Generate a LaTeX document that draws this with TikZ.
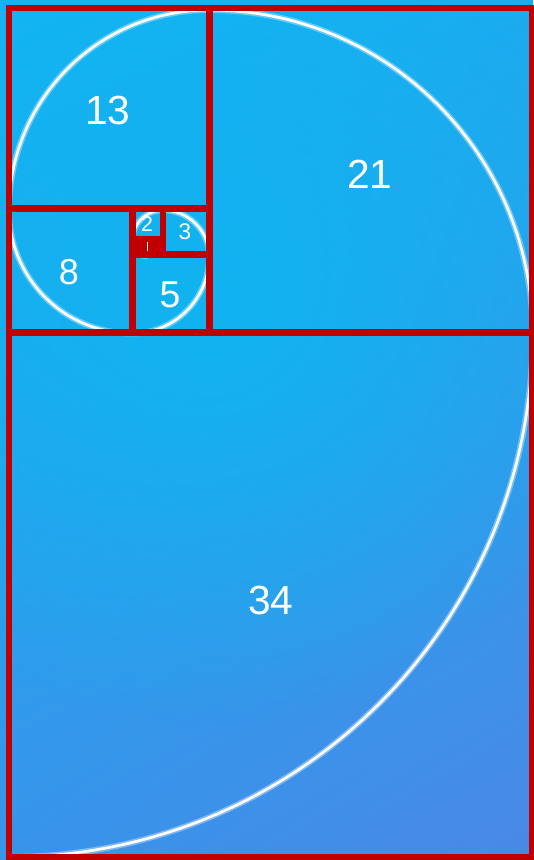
\documentclass[tikz,border=0pt]{standalone}
\usepackage{fontspec}
\setmainfont{Liberation Sans}
\usetikzlibrary{shadings,fadings}
\definecolor{framered}{HTML}{C00000}
\definecolor{bgUL}{HTML}{12B6F2}
\definecolor{bgUR}{HTML}{1AACEF}
\definecolor{bgLL}{HTML}{3794EA}
\definecolor{bgLR}{HTML}{4A88E6}
\definecolor{glowcyan}{HTML}{10B4F0}
\tikzfading[name=softglow, inner color=transparent!0, outer color=transparent!100]
\tikzset{
  sq/.style={draw=framered, line width=5pt},
  spiral/.style={draw=white, line width=2pt, line cap=round},
  spiralglow/.style={draw=white, opacity=0.35, line width=4.5pt},
  lbl/.style={text=white, inner sep=0pt},
}
\begin{document}
\begin{tikzpicture}[x=0.75pt,y=-0.75pt]
\useasboundingbox (0,0) rectangle (533,860);
\shade[upper left=bgUL, upper right=bgUR, lower left=bgLL, lower right=bgLR] (0,0) rectangle (533,860);
\fill[glowcyan, path fading=softglow, fit fading=true] (210,300) circle[radius=430];
% spiral
\path[spiralglow] (9,857) arc[start angle=90,end angle=0,radius=523.6]
  arc[start angle=0,end angle=-90,radius=323.4]
  arc[start angle=-90,end angle=-180,radius=200.2]
  arc[start angle=180,end angle=90,radius=123.2]
  arc[start angle=90,end angle=0,radius=77]
  arc[start angle=0,end angle=-90,radius=46.2]
  arc[start angle=-90,end angle=-180,radius=30.8]
  arc[start angle=180,end angle=90,radius=15.4];
\path[spiral] (9,857) arc[start angle=90,end angle=0,radius=523.6]
  arc[start angle=0,end angle=-90,radius=323.4]
  arc[start angle=-90,end angle=-180,radius=200.2]
  arc[start angle=180,end angle=90,radius=123.2]
  arc[start angle=90,end angle=0,radius=77]
  arc[start angle=0,end angle=-90,radius=46.2]
  arc[start angle=-90,end angle=-180,radius=30.8]
  arc[start angle=180,end angle=90,radius=15.4];
% squares
\fill[framered] (132.2,239) rectangle (163,254.4);
\path[sq] (9,332.5) rectangle (532.6,857);
\path[sq] (209.2,8) rectangle (532.6,332.5);
\path[sq] (9,8) rectangle (209.2,208.2);
\path[sq] (9,208.2) rectangle (132.2,332.5);
\path[sq] (132.2,254.4) rectangle (209.2,332.5);
\path[sq] (163,208.2) rectangle (209.2,254.4);
\path[sq] (132.2,208.2) rectangle (163,239);
\draw[white, line width=0.6pt] (147.3,242) -- (147.3,251);
% labels
\node[lbl, font=\fontsize{30.5}{30}\selectfont] (l13) at (108,110) {13};
\node[lbl, font=\fontsize{30.5}{30}\selectfont] (l21) at (370,174) {21};
\node[lbl, font=\fontsize{30.5}{30}\selectfont] (l34) at (271,600) {34};
\node[lbl, font=\fontsize{27}{27}\selectfont] (l8) at (69,272) {8};
\node[lbl, font=\fontsize{28}{28}\selectfont] (l5) at (170,295) {5};
\node[lbl, font=\fontsize{17}{17}\selectfont] (l3) at (185,232) {3};
\node[lbl, font=\fontsize{16}{16}\selectfont] (l2) at (147,224) {2};
\end{tikzpicture}
\end{document}
